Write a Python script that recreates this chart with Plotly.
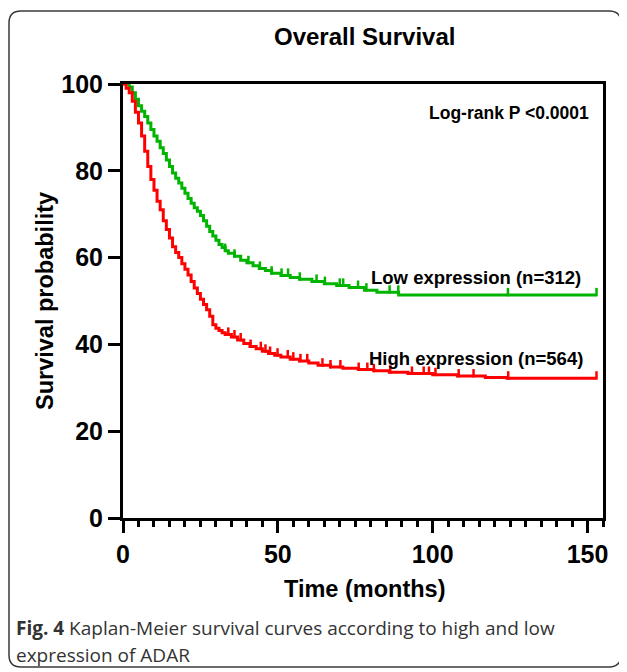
import numpy as np
import plotly.graph_objects as go

# ---------------- data ----------------
low_time = [0, 2, 3, 4, 5, 6, 7, 8, 9, 10, 11, 12, 13, 14, 15, 16, 17, 18, 19, 20,
            21, 22, 23, 24, 25, 26, 27, 28, 29, 30, 31, 32, 33, 34, 36, 38, 40, 42,
            44, 46, 48, 51, 54, 57, 61, 65, 69, 73, 78, 82, 89, 152.9]
low_surv = [100, 99.3, 98, 96.5, 95, 93.7, 92.5, 91, 89.5, 88, 86.8, 85.3, 84, 82.5,
            81, 79.5, 78.3, 77.2, 76, 74.8, 73.6, 72.5, 71.5, 70.7, 69.7, 68.5, 67.2,
            66, 65, 64, 63, 62.3, 61.6, 61, 60.3, 59.4, 58.8, 58.1, 57.5, 57, 56.4,
            55.9, 55.4, 55, 54.5, 54, 53.6, 53.1, 52.5, 52, 51.4, 51.4]
low_censor = [33, 36, 40.5, 44.2, 48, 51.2, 53.3, 57.1, 62.5, 65.2, 70, 71.1, 75.9,
              78.6, 86.1, 88.9, 124.3, 152.9]

high_time = [0, 1, 2, 3, 4, 5, 6, 7, 8, 9, 10, 11, 12, 13, 14, 15, 16, 17, 18, 19, 20,
             21, 22, 23, 24, 25, 26, 27, 28, 29, 30, 31, 32, 33, 35, 37, 39, 41, 43, 45,
             47, 49, 51, 54, 57, 60, 63, 67, 71, 76, 81, 86, 92, 100, 108, 117, 124, 152.9]
high_surv = [100, 99, 98, 96, 93.5, 91, 88, 84.5, 81, 78, 75.5, 73, 71, 68.5, 66.5, 64.5,
             62.5, 61.2, 60, 58.6, 57.3, 56, 54.5, 53, 51.7, 50.4, 49.2, 48, 46.5, 44.5,
             43.7, 43.2, 42.7, 42.3, 41.7, 41, 40.2, 39.5, 39, 38.4, 37.9, 37.5, 37.1,
             36.6, 36.2, 35.7, 35.2, 34.8, 34.5, 34.2, 33.9, 33.6, 33.3, 33, 32.7, 32.4,
             32.2, 32.2]
high_censor = [34, 36, 38, 41.2, 44.5, 46, 47.5, 49.9, 53.2, 55, 57.3, 59.5, 64.4, 67,
               70.2, 76.1, 78.9, 81, 86.3, 93.3, 97.1, 98.8, 100.9, 108.4, 113.2, 124.4,
               152.9]

x_ticks = [0, 50, 100, 150]
y_ticks = [0, 20, 40, 60, 80, 100]

LOW_COLOR = "#00b400"
HIGH_COLOR = "#ff0000"
FONT = "Liberation Sans"

# The page body has an 8px margin, so the figure is drawn 8px right/down.
OFF = 8
W, H = 627 - OFF, 672 - OFF
# plot area in figure pixels
L, R, T, B = 123 - OFF, 603 - OFF, 84 - OFF, 518 - OFF


def paper(xp, yp):
    """Reference-page pixel -> paper coordinates."""
    xp -= OFF
    yp -= OFF
    return (xp - L) / (R - L), (B - yp) / (B - T)


def surv_at(times, surv, t):
    idx = np.searchsorted(np.array(times), np.array(t), side="right") - 1
    return np.array(surv)[idx]


fig = go.Figure()

for times, surv, cens, col, name in [
    (low_time, low_surv, low_censor, LOW_COLOR, "Low expression"),
    (high_time, high_surv, high_censor, HIGH_COLOR, "High expression"),
]:
    fig.add_trace(go.Scatter(x=times, y=surv, mode="lines", line_shape="hv",
                             line=dict(color=col, width=3), name=name,
                             showlegend=False))
    cy = surv_at(times, surv, cens)
    fig.add_trace(go.Scatter(x=cens, y=cy + 0.65, mode="markers",
                             marker=dict(symbol="line-ns", size=6,
                                         line=dict(color=col, width=2.5)),
                             showlegend=False, hoverinfo="skip"))

annotations = []


def add_text(text, xp, yp, size, xanchor="center", color="black", font=FONT,
             angle=0, weight="bold"):
    px_, py_ = paper(xp, yp)
    annotations.append(dict(text=text, x=px_, y=py_, xref="paper", yref="paper",
                            xanchor=xanchor, yanchor="middle", showarrow=False,
                            textangle=angle,
                            font=dict(family=font, size=size, color=color,
                                      weight=weight)))


add_text("Overall Survival", 364, 36, 24)
add_text("Log-rank P <0.0001", 591, 113, 17.5, xanchor="right")
add_text("Low expression (n=312)", 583, 277, 18.5, xanchor="right")
add_text("High expression (n=564)", 585, 358, 18.5, xanchor="right")
add_text("Survival probability", 45, 301, 23.5, angle=-90)
add_text("Time (months)", 364, 589, 23.5)
add_text("<b>Fig. 4</b> Kaplan-Meier survival curves according to high and low",
         14, 628, 19, xanchor="left", color="#333333", font="Open Sans",
         weight="normal")
add_text("expression of ADAR", 14, 655, 19, xanchor="left", color="#333333",
         font="Open Sans", weight="normal")

# rounded outer border (reference pixel positions converted to paper coords)
bx0, bx1, by0, by1, r = 9, 621, 11, 667, 12


def P(xp, yp):
    a, b = paper(xp, yp)
    return f"{a:.5f},{b:.5f}"


path = (f"M {P(bx0 + r, by0)} L {P(bx1 - r, by0)} Q {P(bx1, by0)} {P(bx1, by0 + r)} "
        f"L {P(bx1, by1 - r)} Q {P(bx1, by1)} {P(bx1 - r, by1)} "
        f"L {P(bx0 + r, by1)} Q {P(bx0, by1)} {P(bx0, by1 - r)} "
        f"L {P(bx0, by0 + r)} Q {P(bx0, by0)} {P(bx0 + r, by0)} Z")

tickfont = dict(family=FONT, size=25, color="black", weight="bold")

fig.update_layout(
    width=W, height=H,
    margin=dict(l=L, r=W - R, t=T, b=H - B),
    plot_bgcolor="white", paper_bgcolor="white",
    annotations=annotations,
    shapes=[dict(type="path", path=path, xref="paper", yref="paper",
                 line=dict(color="#3a3a3a", width=1.5), layer="below")],
    xaxis=dict(range=[0, 155], showline=True, linewidth=3, linecolor="black",
               mirror=True, ticks="outside", ticklen=12, tickwidth=3,
               tickcolor="black", tickvals=x_ticks, showgrid=False, zeroline=False,
               tickfont=tickfont,
               minor=dict(dtick=5, tick0=0, ticks="outside", ticklen=6,
                          tickwidth=2.5, tickcolor="black", showgrid=False)),
    yaxis=dict(range=[0, 100], showline=True, linewidth=3, linecolor="black",
               mirror=True, ticks="outside", ticklen=12, tickwidth=3,
               tickcolor="black", tickvals=y_ticks, showgrid=False, zeroline=False,
               tickfont=tickfont),
)

fig.write_html("out.html")
